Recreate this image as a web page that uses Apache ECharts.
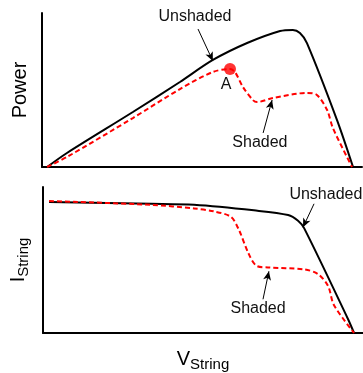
<!DOCTYPE html>
<html><head><meta charset="utf-8">
<script src="https://cdn.jsdelivr.net/npm/echarts@6/dist/echarts.min.js"></script>
<style>html,body{margin:0;padding:0;background:#fff}#c{width:363px;height:373px}</style>
</head><body><div id="c"></div>
<script>
// Top panel: Power vs V_String
const powerUnshaded = [[1.6,0],[7.8,9.1],[28.4,35.7],[43.1,55.2],[53.4,69.5],[64.1,80.5],[74.4,88.3],[78.4,89.0],[80.6,87.0],[82.8,80.5],[92.2,30.5],[97.2,0]];
const powerShaded = [[1.6,0],[7.8,6.5],[28.4,31.8],[43.1,50.6],[53.4,61.7],[58.75,63.6],[60.3,61.7],[62.8,51.9],[65.9,43.5],[67.2,42.2],[72.2,44.8],[82.8,48.1],[85.9,46.8],[89.1,37.0],[90.9,25.3],[96.9,0]];
const pointA = [[58.75,63.6]];
// Bottom panel: I_String vs V_String
const currentUnshaded = [[1.9,89.7],[33.75,88.5],[47.2,87.8],[65.9,84.0],[76.6,80.8],[79.7,76.9],[81.6,71.8],[95.3,9.6],[97.2,0]];
const currentShaded = [[1.9,90.4],[33.75,87.8],[47.2,85.3],[53.4,83.3],[58.75,79.5],[61.25,70.5],[64.1,55.1],[66.6,46.2],[70.3,44.9],[81.6,43.6],[85.9,40.4],[89.1,32.1],[90.9,19.2],[97.2,0]];
// Annotations: [text, x, y]
const topLabels = [['Unshaded',47.8,97.4],['A',57.5,53.2],['Shaded',68.1,15.6]];
const topArrows = [[[48.75,89.6],[53.4,68.8]],[[69.1,22.1],[71.9,43.5]]];
const botLabels = [['Unshaded',88.4,94.9],['Shaded',67.2,16.7]];
const botArrows = [[[84.7,88.5],[81.25,72.4]],[[68.75,23.1],[70.6,42.3]]];

const font = 'Liberation Sans, Arial, sans-serif';
const chart = echarts.init(document.getElementById('c'), null, {renderer:'canvas'});
function axisBase(){
  return {type:'value',min:0,max:100,axisTick:{show:false},axisLabel:{show:false},splitLine:{show:false},
    axisLine:{show:true,lineStyle:{color:'#000',width:2}}};
}
function mkPts(labels){
  return {symbol:'circle',symbolSize:0,silent:true,animation:false,
    label:{show:true,position:'inside',color:'#111',fontSize:16,fontFamily:font,formatter:p=>p.name},
    data:labels.map(l=>({name:l[0],coord:[l[1],l[2]]}))};
}
function mkLines(arrows){
  return {symbol:['none','arrow'],symbolSize:[6,9],silent:true,animation:false,label:{show:false},
    lineStyle:{color:'#000',width:1,type:'solid'},
    data:arrows.map(a=>[{coord:a[0]},{coord:a[1]}])};
}
const option = {
  animation:false,
  grid:[{left:42,top:13,width:320,height:154},{left:43,top:187,width:320,height:156}],
  xAxis:[Object.assign(axisBase(),{gridIndex:0}),
         Object.assign(axisBase(),{gridIndex:1,name:'{a|V}{b|String}',nameLocation:'middle',nameGap:14,
           nameTextStyle:{rich:{a:{fontSize:20,fontFamily:font,color:'#000'},b:{fontSize:15,fontFamily:font,color:'#000',padding:[10,0,0,0]}}}})],
  yAxis:[Object.assign(axisBase(),{gridIndex:0,name:'Power',nameLocation:'middle',nameGap:12,nameRotate:90,
           nameTextStyle:{fontSize:20,fontFamily:font,color:'#000'}}),
         Object.assign(axisBase(),{gridIndex:1,name:'{a|I}{b|String}',nameLocation:'middle',nameGap:12,nameRotate:90,
           nameTextStyle:{rich:{a:{fontSize:20,fontFamily:font,color:'#000'},b:{fontSize:15,fontFamily:font,color:'#000',padding:[10,0,0,0]}}}})],
  series:[
    {type:'line',xAxisIndex:0,yAxisIndex:0,data:powerUnshaded,smooth:0.3,symbol:'none',
      lineStyle:{color:'#000',width:2},markLine:mkLines(topArrows),markPoint:mkPts(topLabels)},
    {type:'line',xAxisIndex:0,yAxisIndex:0,data:powerShaded,smooth:0.3,symbol:'none',
      lineStyle:{color:'#ff0000',width:2,type:[5,3]}},
    {type:'scatter',xAxisIndex:0,yAxisIndex:0,data:pointA,symbolSize:12,itemStyle:{color:'#ff0000'},z:5},
    {type:'line',xAxisIndex:1,yAxisIndex:1,data:currentUnshaded,smooth:0.3,symbol:'none',
      lineStyle:{color:'#000',width:2},markLine:mkLines(botArrows),markPoint:mkPts(botLabels)},
    {type:'line',xAxisIndex:1,yAxisIndex:1,data:currentShaded,smooth:0.3,symbol:'none',
      lineStyle:{color:'#ff0000',width:2,type:[5,3]}}
  ]
};
chart.setOption(option);
</script></body></html>
